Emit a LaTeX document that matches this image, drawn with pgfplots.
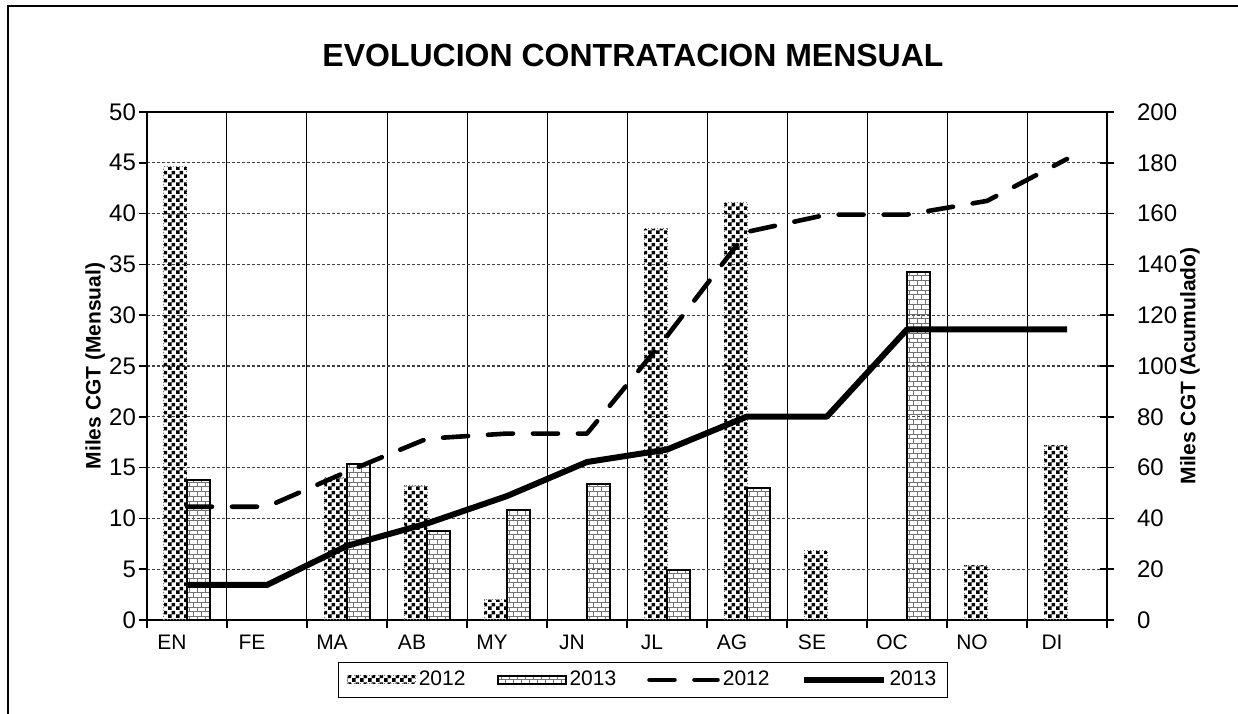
\documentclass[border=0pt]{standalone}
\usepackage{pgfplots}
\pgfplotsset{compat=1.18}
\usepackage{fontspec}
\setmainfont{Liberation Sans}
\usetikzlibrary{patterns}

\pgfdeclarepatternformonly{mycheck}{\pgfqpoint{0pt}{0pt}}{\pgfqpoint{4pt}{4pt}}{\pgfqpoint{4pt}{4pt}}{%
  \pgfpathrectangle{\pgfqpoint{0pt}{0pt}}{\pgfqpoint{2pt}{2pt}}%
  \pgfpathrectangle{\pgfqpoint{2pt}{2pt}}{\pgfqpoint{2pt}{2pt}}%
  \pgfusepath{fill}}

\pgfdeclarepatternformonly{mybricks}{\pgfqpoint{-0.5pt}{-0.5pt}}{\pgfqpoint{4.5pt}{5.3pt}}{\pgfqpoint{4pt}{4.8pt}}{%
  \pgfsetlinewidth{0.5pt}%
  \pgfpathmoveto{\pgfqpoint{0pt}{0.2pt}}\pgfpathlineto{\pgfqpoint{4pt}{0.2pt}}%
  \pgfpathmoveto{\pgfqpoint{0pt}{2.6pt}}\pgfpathlineto{\pgfqpoint{4pt}{2.6pt}}%
  \pgfpathmoveto{\pgfqpoint{0.5pt}{0.2pt}}\pgfpathlineto{\pgfqpoint{0.5pt}{2.6pt}}%
  \pgfpathmoveto{\pgfqpoint{2.5pt}{2.6pt}}\pgfpathlineto{\pgfqpoint{2.5pt}{5pt}}%
  \pgfusepath{stroke}}

\begin{document}
\begin{tikzpicture}
\useasboundingbox (0,0) rectangle (619pt,356.5pt);
\draw[line width=1pt] (3.75pt,-1pt) -- (3.75pt,353.5pt) -- (620pt,353.5pt);
\node[font=\fontsize{16}{19}\selectfont\bfseries] at (316.5pt,329pt) {EVOLUCION CONTRATACION MENSUAL};

\begin{axis}[
  at={(73.5pt,46.5pt)}, anchor=south west,
  scale only axis, width=480pt, height=254pt,
  xmin=-0.5, xmax=11.5, ymin=0, ymax=50,
  xtick={-0.5,0.5,...,11.5}, xticklabels={},
  extra x ticks={0,1,2,3,4,5,6,7,8,9,10,11},
  extra x tick labels={EN,FE,MA,AB,MY,JN,JL,AG,SE,OC,NO,DI},
  extra x tick style={grid=none, major tick length=0pt, xticklabel style={xshift=-7.5pt, yshift=-4pt}},
  ytick={0,5,...,50},
  xmajorgrids, ymajorgrids,
  x grid style={black, line width=0.5pt},
  y grid style={black!75, line width=0.6pt, dash pattern=on 1.5pt off 1pt},
  axis line style={black, line width=1pt, -},
  tick style={black, line width=0.8pt},
  tick align=outside, major tick length=4pt,
  xtick pos=left, ytick pos=left,
  yticklabel style={font=\fontsize{12}{14}\selectfont, xshift=2pt},
  xticklabel style={font=\fontsize{10.5}{12}\selectfont},
  ylabel={Miles CGT (Mensual)},
  ylabel style={font=\fontsize{10.5}{12}\selectfont\bfseries, at={(axis description cs:-0.054,0.5)}, anchor=center},
  /pgf/number format/assume math mode=true,
]
\addplot[ybar, bar width=0.2875, bar shift=-0.14375, pattern=mycheck, pattern color=black,
  draw=black!55, densely dotted, line width=0.5pt] coordinates {
  (0,44.6) (2,14.0) (3,13.2) (4,2.0) (6,38.5) (7,41.1) (8,6.8) (10,5.4) (11,17.2)};
\addplot[ybar, bar width=0.2875, bar shift=0.14375, pattern=mybricks, pattern color=black!55,
  draw=black, line width=1pt] coordinates {
  (0,13.8) (2,15.4) (3,8.8) (4,10.8) (5,13.4) (6,4.9) (7,13.0) (9,34.3)};
\end{axis}

\begin{axis}[
  at={(73.5pt,46.5pt)}, anchor=south west,
  scale only axis, width=480pt, height=254pt,
  xmin=-0.5, xmax=11.5, ymin=0, ymax=200,
  axis x line=none, axis y line*=right,
  ytick={0,20,...,200},
  axis line style={black, line width=1pt, -},
  tick style={black, line width=0.8pt},
  tick align=center, major tick length=7pt,
  yticklabel style={font=\fontsize{12}{14}\selectfont, xshift=8pt},
  ylabel={Miles CGT (Acumulado)},
  ylabel style={font=\fontsize{10.5}{12}\selectfont\bfseries, at={(axis description cs:1.0865,0.5)}, anchor=center, rotate=0},
  /pgf/number format/assume math mode=true,
  legend columns=4,
  legend style={at={(axis description cs:0.5167,-0.118)}, anchor=center,
    draw=black, line width=0.6pt, font=\fontsize{10.5}{12}\selectfont,
    inner xsep=4pt, inner ysep=3pt,
    /tikz/every even column/.append style={column sep=14pt},
    nodes={inner sep=1.5pt}},
]
\addlegendimage{legend image code/.code={\draw[pattern=mycheck, pattern color=black, draw=black!55, densely dotted, line width=0.5pt] (0pt,-2pt) rectangle (34pt,2pt);}}
\addlegendentry{2012}
\addlegendimage{legend image code/.code={\draw[pattern=mybricks, pattern color=black!55, draw=black, line width=1pt] (0pt,-2pt) rectangle (34pt,2pt);}}
\addlegendentry{2013}
\addplot[black, line width=2.3pt, dash pattern=on 12.5pt off 10pt, line cap=round, line join=round,
  legend image code/.code={\draw[black, line width=2.3pt, dash pattern=on 12.5pt off 10pt, line cap=round] (0pt,0pt) -- (34pt,0pt);}]
  coordinates {(0,44.6) (1,44.6) (2,58.4) (3,71.4) (4,73.4) (5,73.4) (6,111.8) (7,152.8) (8,159.6) (9,159.6) (10,165.0) (11,181.5)};
\addlegendentry{2012}
\addplot[black, line width=3pt, line join=round,
  legend image code/.code={\draw[black, line width=3pt] (0pt,0pt) -- (40pt,0pt);}]
  coordinates {(0,13.8) (1,13.8) (2,29.2) (3,38.0) (4,48.8) (5,62.2) (6,67.1) (7,80.1) (8,80.1) (9,114.4) (10,114.4) (11,114.4)};
\addlegendentry{2013}
\end{axis}
\end{tikzpicture}
\end{document}
